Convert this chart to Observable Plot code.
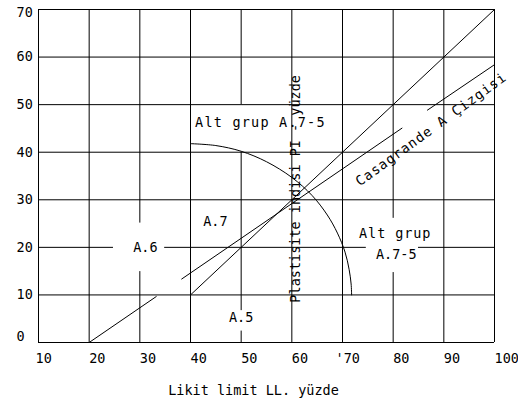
<!DOCTYPE html>
<html>
<head>
<meta charset="utf-8">
<script src="https://cdn.jsdelivr.net/npm/d3@7"></script>
<script src="https://cdn.jsdelivr.net/npm/@observablehq/plot@0.6"></script>
<style>
  html, body { margin: 0; padding: 0; background: #fff; }
</style>
</head>
<body>
<div id="chart"></div>
<script>
// ---- axes ----
const xTicks = [20, 30, 40, 50, 60, 80, 90, 100];
const xTickFirst = [10];
const xTickSeventy = [70];
const xTickLabelSeventy = "'70";
const yTicks = [10, 20, 30, 40, 50, 60];
const yTickBottom = [0];
const yTickTop = [70];
const xTitle = "Likit limit LL. yüzde";
const yTitle = "Plastisite indisi PI - yüzde";

// ---- grid segments (data units; gaps where labels sit) ----
const vGridX  = [10, 20, 30,   30,   40, 50,  50,  50, 60, 70, 80,   80,   90, 100];
const vGridY1 = [0,  0,  0,    25.1, 0,  0,   6.7, 50, 0,  0,  0,    26.1, 0,  0];
const vGridY2 = [70, 70, 14.9, 70,   70, 2.4, 40,  70, 70, 70, 14.7, 70,   70, 70];
const hGridY  = [0,   10,  20,   20,   20,  30,  40,  50,  60,  70];
const hGridX1 = [10,  10,  10,   34.9, 85,  10,  10,  10,  10,  10];
const hGridX2 = [100, 100, 24.8, 74.7, 100, 100, 100, 100, 100, 100];

// ---- Casagrande A line (broken where the labels are) ----
const aLineLL1 = [20, 38.2, 86.7];
const aLinePI1 = [0, 13.3, 48.8];
const aLineLL2 = [33.3, 81.8, 100];
const aLinePI2 = [9.7, 45.1, 58.4];

// ---- second straight line ----
const uLineLL = [40, 100];
const uLinePI = [10, 70];

// ---- arc (group boundary) ----
const arcLL = [40, 45, 50, 55, 60, 64, 67, 69, 70.5, 71.3, 71.7, 71.8];
const arcPI = [41.8, 41.4, 40.2, 38.0, 34.7, 30.9, 26.8, 23.0, 19.0, 15.4, 12.3, 10];

// ---- labels ----
const labelText = ["Alt grup A.7-5", "A.6", "A.7", "A.5", "Alt grup", "A.7-5"];
const labelLL   = [53.8, 31.1, 44.9, 50.0, 80.4, 80.6];
const labelPI   = [46.2, 20.0, 25.3, 5.3, 22.9, 18.5];
const casaText = "Casagrande A Çizgisi";
const casaLL = [87.5];
const casaPI = [44.8];
const yTitleLL = [60.8];
const yTitlePI = [32.3];

const FONT = "DejaVu Sans Mono";
const FS = 13.5;
const INK = "#000";

const vGrid = vGridX.map((x, i) => ({x, y1: vGridY1[i], y2: vGridY2[i]}));
const hGrid = hGridY.map((y, i) => ({y, x1: hGridX1[i], x2: hGridX2[i]}));
const aSeg = aLineLL1.map((x1, i) => ({x1, y1: aLinePI1[i], x2: aLineLL2[i], y2: aLinePI2[i]}));
const uSeg = [{x1: uLineLL[0], y1: uLinePI[0], x2: uLineLL[1], y2: uLinePI[1]}];
const arc = arcLL.map((x, i) => ({x, y: arcPI[i]}));
const labels = labelText.map((t, i) => ({t, x: labelLL[i], y: labelPI[i]}));

const axisCommon = {tickSize: 0, fontSize: FS, fill: INK};

const chart = Plot.plot({
  width: 518,
  height: 410,
  marginLeft: 38,
  marginRight: 24,
  marginTop: 9,
  marginBottom: 68,
  style: {fontFamily: FONT, fontSize: FS + "px", background: "#fff", color: INK},
  x: {domain: [10, 100]},
  y: {domain: [0, 70]},
  marks: [
    Plot.ruleX(vGrid, {x: "x", y1: "y1", y2: "y2", stroke: INK, strokeWidth: 1}),
    Plot.ruleY(hGrid, {y: "y", x1: "x1", x2: "x2", stroke: INK, strokeWidth: 1}),
    Plot.link(aSeg, {x1: "x1", y1: "y1", x2: "x2", y2: "y2", stroke: INK, strokeWidth: 1}),
    Plot.link(uSeg, {x1: "x1", y1: "y1", x2: "x2", y2: "y2", stroke: INK, strokeWidth: 1}),
    Plot.line(arc, {x: "x", y: "y", curve: "catmull-rom", stroke: INK, strokeWidth: 1}),
    Plot.text(labels, {x: "x", y: "y", text: "t", fontSize: FS, fill: INK, fontFamily: FONT}),
    Plot.text([casaText], {x: () => casaLL[0], y: () => casaPI[0], text: d => d, rotate: -36, fontSize: FS, fill: INK, fontFamily: FONT}),
    Plot.text([yTitle], {x: () => yTitleLL[0], y: () => yTitlePI[0], text: d => d, rotate: -90, fontSize: FS, fill: INK, fontFamily: FONT}),
    Plot.text([xTitle], {frameAnchor: "bottom", dy: 52, dx: -13, text: d => d, fontSize: FS, fill: INK, fontFamily: FONT}),
    // x axis tick labels
    Plot.axisX(xTicks, {...axisCommon, anchor: "bottom", tickPadding: 11, textAnchor: "start", label: null}),
    Plot.axisX(xTickFirst, {...axisCommon, anchor: "bottom", tickPadding: 11, textAnchor: "start", dx: -3, label: null}),
    Plot.axisX(xTickSeventy, {...axisCommon, anchor: "bottom", tickPadding: 11, textAnchor: "start", dx: -7, tickFormat: () => xTickLabelSeventy, label: null}),
    // y axis tick labels
    Plot.axisY(yTicks, {...axisCommon, anchor: "left", tickPadding: 22, textAnchor: "start", label: null}),
    Plot.axisY(yTickBottom, {...axisCommon, anchor: "left", tickPadding: 22, textAnchor: "start", dy: -6, label: null}),
    Plot.axisY(yTickTop, {...axisCommon, anchor: "left", tickPadding: 22, textAnchor: "start", dy: 3.5, label: null})
  ]
});

const spacing = {"Alt grup A.7-5": "1.2px", "Casagrande A Çizgisi": "1px", "Alt grup": "0.9px"};
d3.select(chart).selectAll("text").each(function() {
  const s = spacing[this.textContent];
  if (s) this.style.letterSpacing = s;
});

document.getElementById("chart").appendChild(chart);
</script>
</body>
</html>
